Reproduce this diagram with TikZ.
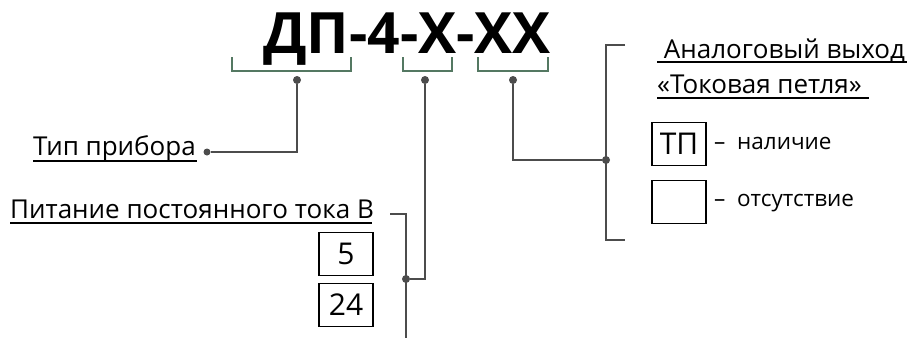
\documentclass[tikz,border=0pt]{standalone}
\usepackage{fontspec}
\setmainfont{Open Sans}
\definecolor{bracegreen}{RGB}{84,120,98}
\tikzset{
  lead/.style={draw=black!70,line width=2pt},
  brace/.style={draw=bracegreen,line width=1.2pt},
  dot/.style={circle,fill=black!70,inner sep=0pt,minimum size=8pt},
  lbl/.style={inner sep=0pt,anchor=base west,font=\fontsize{26}{30}\selectfont},
  optbox/.style={draw,line width=1.5pt,inner sep=0pt,minimum width=54pt,minimum height=43pt,font=\fontsize{30}{36}\selectfont},
  note/.style={inner sep=0pt,anchor=west,font=\fontsize{22.5}{26}\selectfont}
}
\begin{document}
\begin{tikzpicture}[x=1pt,y=-1pt]
\useasboundingbox (0,0) rectangle (907,338);
% code
\node[inner sep=0pt,anchor=base,font=\bfseries\fontsize{57}{64}\selectfont] (code) at (407,53) {ДП-4-Х-ХХ};
\draw[brace] (232,57) -- (232,71) -- (351,71) -- (351,57);
\draw[brace] (403,57) -- (403,71) -- (452,71) -- (452,57);
\draw[brace] (478,57) -- (478,71) -- (548,71) -- (548,57);
\node[dot] (d1) at (297,80) {};
\node[dot] (d2) at (425,80) {};
\node[dot] (d3) at (513,80) {};
% type
\node[lbl] (type) at (33,155) {Тип прибора};
\draw[line width=1.8pt] (33,161) -- (197,161);
\node[dot,minimum size=7pt] (dt) at (207,152) {};
\draw[lead] (d1) |- (dt);
% supply
\node[lbl] (pow) at (10,218) {Питание постоянного тока В};
\draw[line width=1.8pt] (10,223) -- (372,223);
\node[optbox] (v5) at (346,254) {5};
\node[optbox] (v24) at (346,305) {24};
\coordinate (ptop) at (390,214);
\coordinate (pbot) at (406,338);
\node[dot] (dp) at (406,279) {};
\draw[lead] (ptop) -| (pbot);
\draw[lead] (d2) |- (dp);
% output
\coordinate (otop) at (625,45);
\coordinate (obot) at (625,240);
\node[dot] (dq) at (606,160) {};
\draw[lead] (otop) -| (606,240) -- (obot);
\draw[lead] (d3) |- (dq);
\node[lbl] (out1) at (657,58) {\ Аналоговый выход};
\draw[line width=1.8pt] (657,62) -- (907,62);
\node[lbl] (out2) at (657,93) {«Токовая петля»};
\draw[line width=1.8pt] (657,98) -- (869,98);
\node[optbox] (tp) at (679,144) {ТП};
\node[optbox] (none) at (679,202) {};
\node[note] (yes) at (714,143) {–\ \ наличие};
\node[note] (no) at (714,203) {–\ \ отсутствие};
\end{tikzpicture}
\end{document}
